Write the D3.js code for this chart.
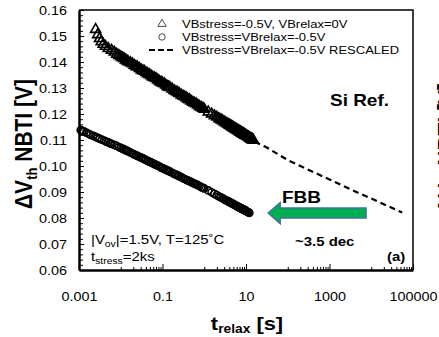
<!DOCTYPE html>
<html>
<head>
<meta charset="utf-8">
<script src="https://cdn.jsdelivr.net/npm/d3@7"></script>
<style>
  body { margin: 0; background: #fff; }
  svg { display: block; }
</style>
</head>
<body>
<div id="graph"></div>
<script>
const width = 439
const height = 337
const SX = 1.15   // text in the picture is a bit wider than tall
const FONT = "'Liberation Sans', Arial, sans-serif"

// VBstress=-0.5V, VBrelax=0V  (triangles)
const triT = [0.0025, 0.0028, 0.0031, 0.0034, 0.0038, 0.0043, 0.005, 0.006, 0.007, 0.008, 0.009,
  0.01, 0.011, 0.012, 0.013, 0.014, 0.015, 0.017, 0.019, 0.021, 0.023, 0.025, 0.028, 0.031, 0.034,
  0.037, 0.04, 0.044, 0.048, 0.053, 0.058, 0.064, 0.07, 0.077, 0.085, 0.093,
  0.1, 0.11, 0.12, 0.13, 0.14, 0.15, 0.17, 0.19, 0.21, 0.23, 0.25, 0.28, 0.31, 0.34,
  0.37, 0.4, 0.44, 0.48, 0.53, 0.58, 0.64, 0.7, 0.77, 0.85, 0.93,
  1.0, 1.25, 1.5, 1.75, 2.0, 2.25, 2.5, 2.75, 3.0, 3.25, 3.5, 3.75, 4.0, 4.25, 4.5, 4.75,
  5.0, 5.25, 5.5, 5.75, 6.0, 6.25, 6.5, 6.75, 7.0, 7.25, 7.5, 7.75, 8.0, 8.25, 8.5, 8.75,
  9.0, 9.25, 9.5, 9.75, 10, 10.5, 11, 11.5, 12, 12.5, 13, 13.5, 14, 14.5, 15]
const triV = [0.1525, 0.1505, 0.1490, 0.1478, 0.1468, 0.1460, 0.1452, 0.1445, 0.1438, 0.1430, 0.1425,
  0.1420, 0.1416, 0.1413, 0.1408, 0.1405, 0.1401, 0.1397, 0.1393, 0.1387, 0.1383, 0.1381, 0.1375, 0.1369, 0.1366,
  0.1364, 0.1359, 0.1355, 0.1352, 0.1347, 0.1342, 0.1339, 0.1336, 0.1331, 0.1325, 0.1322,
  0.1319, 0.1316, 0.1311, 0.1306, 0.1304, 0.1302, 0.1296, 0.1290, 0.1286, 0.1283, 0.1279, 0.1273, 0.1269, 0.1266,
  0.1262, 0.1258, 0.1255, 0.1250, 0.1245, 0.1242, 0.1239, 0.1234, 0.1229, 0.1225, 0.1222,
  0.1218, 0.1208, 0.1200, 0.1193, 0.1188, 0.1182, 0.1178, 0.1174, 0.1170, 0.1166, 0.1163, 0.1160,
  0.1157, 0.1155, 0.1152, 0.1150, 0.1147, 0.1145, 0.1143, 0.1141, 0.1139, 0.1138, 0.1136, 0.1134,
  0.1133, 0.1131, 0.1130, 0.1128, 0.1127, 0.1125, 0.1124, 0.1123, 0.1122, 0.1120, 0.1119, 0.1118,
  0.1117, 0.1115, 0.1113, 0.1111, 0.1109, 0.1107, 0.1105, 0.1104, 0.1102, 0.1101, 0.1099]

// VBstress=VBrelax=-0.5V  (circles)
const cirT = [0.0011, 0.0012, 0.0013, 0.0015, 0.0017, 0.0019, 0.0022, 0.0025, 0.0028, 0.0031, 0.0035,
  0.004, 0.0045, 0.005, 0.0055, 0.006, 0.007, 0.008, 0.009,
  0.01, 0.011, 0.012, 0.013, 0.014, 0.015, 0.017, 0.019, 0.021, 0.023, 0.025, 0.028, 0.031, 0.034,
  0.037, 0.04, 0.044, 0.048, 0.053, 0.058, 0.064, 0.07, 0.077, 0.085, 0.093,
  0.1, 0.11, 0.12, 0.13, 0.14, 0.15, 0.17, 0.19, 0.21, 0.23, 0.25, 0.28, 0.31, 0.34,
  0.37, 0.4, 0.44, 0.48, 0.53, 0.58, 0.64, 0.7, 0.77, 0.85, 0.93,
  1.0, 1.25, 1.5, 1.75, 2.0, 2.25, 2.5, 2.75, 3.0, 3.25, 3.5, 3.75, 4.0, 4.25, 4.5, 4.75,
  5.0, 5.25, 5.5, 5.75, 6.0, 6.25, 6.5, 6.75, 7.0, 7.25, 7.5, 7.75, 8.0, 8.25, 8.5, 8.75,
  9.0, 9.25, 9.5, 9.75, 10, 10.5, 11, 11.5, 12]
const cirV = [0.1138, 0.1135, 0.1133, 0.1128, 0.1124, 0.1120, 0.1116, 0.1112, 0.1108, 0.1105, 0.1101,
  0.1098, 0.1094, 0.1091, 0.1088, 0.1085, 0.1081, 0.1077, 0.1073,
  0.1070, 0.1067, 0.1064, 0.1061, 0.1059, 0.1056, 0.1052, 0.1048, 0.1045, 0.1042, 0.1039, 0.1035, 0.1032, 0.1029,
  0.1026, 0.1023, 0.1020, 0.1017, 0.1014, 0.1011, 0.1007, 0.1004, 0.1001, 0.0998, 0.0994,
  0.0992, 0.0989, 0.0986, 0.0983, 0.0981, 0.0978, 0.0974, 0.0970, 0.0967, 0.0964, 0.0961, 0.0957, 0.0953, 0.0950,
  0.0947, 0.0945, 0.0942, 0.0939, 0.0935, 0.0932, 0.0929, 0.0926, 0.0923, 0.0919, 0.0916,
  0.0914, 0.0906, 0.0899, 0.0893, 0.0888, 0.0883, 0.0879, 0.0876, 0.0872, 0.0869, 0.0867, 0.0864,
  0.0862, 0.0859, 0.0857, 0.0855, 0.0853, 0.0851, 0.0850, 0.0848, 0.0846, 0.0845, 0.0843, 0.0842,
  0.0840, 0.0839, 0.0838, 0.0837, 0.0835, 0.0834, 0.0833, 0.0832, 0.0831, 0.0830, 0.0829, 0.0828,
  0.0827, 0.0825, 0.0823, 0.0822, 0.0820]

// VBstress=VBrelax=-0.5V RESCALED  (dashed)
const dashT = [16, 30, 100, 300, 1000, 3000, 10000, 30000, 55000]
const dashV = [0.1093, 0.1073, 0.1023, 0.0987, 0.0948, 0.0912, 0.0875, 0.0840, 0.0821]

// FBB arrow: tip and tail along t, at this level
const arrowT = [34, 7500]
const arrowV = 0.0819

const xMajor = [0.001, 0.1, 10, 1000, 100000]
const xMinorDecades = [0.01, 1, 100, 10000]
const yTicks = [0.06, 0.07, 0.08, 0.09, 0.10, 0.11, 0.12, 0.13, 0.14, 0.15, 0.16]

const legendItems = ["VBstress=-0.5V, VBrelax=0V", "VBstress=VBrelax=-0.5V", "VBstress=VBrelax=-0.5V RESCALED"]

const svg = d3.select("#graph").append("svg")
    .attr("width", width)
    .attr("height", height)
    .style("font-family", FONT)

const x = d3.scaleLog()
    .domain([0.001, 100000])
    .range([79, 413])

const y = d3.scaleLinear()
    .domain([0.06, 0.16])
    .range([270, 10])

const [x0, x1] = x.range()
const [yb, yt] = y.range()

// helper for stretched text
function label(g, px, py, size, bold, rotate) {
    return g.append("text")
        .attr("transform", `translate(${px},${py}) scale(${SX},1)` + (rotate ? " rotate(-90)" : ""))
        .attr("font-size", size)
        .attr("font-weight", bold ? "bold" : "normal")
        .attr("fill", "#000")
}

// top / right frame
svg.append("path")
    .attr("d", `M${x0},${yt}H${x1}V${yb}`)
    .attr("fill", "none")
    .attr("stroke", "#000")
    .attr("stroke-width", 1.5)

// Y axis
const yMinor = d3.range(0.062, 0.16, 0.002)
svg.append("g")
    .attr("transform", `translate(${x0},0)`)
    .call(d3.axisLeft(y).tickValues(yMinor).tickSize(-4).tickSizeOuter(0).tickFormat(""))
    .call(g => g.select(".domain").remove())

const yAxis = svg.append("g")
    .attr("transform", `translate(${x0},0)`)
    .call(d3.axisLeft(y).tickValues(yTicks).tickSize(-5).tickSizeOuter(0)
        .tickPadding(10.5).tickFormat(d3.format(".2f")))
yAxis.select(".domain").attr("stroke-width", 2.5)
yAxis.selectAll(".tick text")
    .attr("font-size", 12.5)
    .attr("font-family", FONT)
    .attr("transform", `scale(${SX},1)`)

// X axis
const xMinor = []
xMinorDecades.forEach(d => { for (let m = 1; m <= 9; m++) xMinor.push(d * m) })
svg.append("g")
    .attr("transform", `translate(0,${yb})`)
    .call(d3.axisBottom(x).tickValues(xMinor).tickSize(-3).tickSizeOuter(0).tickFormat(""))
    .call(g => g.select(".domain").remove())

const xAxis = svg.append("g")
    .attr("transform", `translate(0,${yb})`)
    .call(d3.axisBottom(x).tickValues(xMajor).tickSize(-6).tickSizeOuter(0)
        .tickPadding(22).tickFormat(d => String(d)))
xAxis.select(".domain").attr("stroke-width", 2.5)
xAxis.selectAll(".tick text")
    .attr("font-size", 12.5)
    .attr("font-family", FONT)
    .attr("transform", `scale(${SX},1)`)

// Series
const tri = triT.map((t, i) => ({t, v: triV[i]}))
const cir = cirT.map((t, i) => ({t, v: cirV[i]}))
const dash = dashT.map((t, i) => ({t, v: dashV[i]}))

svg.append("g")
    .attr("fill", "none")
    .attr("stroke", "#000")
    .attr("stroke-width", 1.6)
    .selectAll()
    .data(tri)
    .join("path")
    .attr("transform", d => `translate(${x(d.t)},${y(d.v)})`)
    .attr("d", d3.symbol(d3.symbolTriangle, 44))

svg.append("g")
    .attr("fill", "none")
    .attr("stroke", "#000")
    .attr("stroke-width", 1.6)
    .selectAll()
    .data(cir)
    .join("path")
    .attr("transform", d => `translate(${x(d.t)},${y(d.v)})`)
    .attr("d", d3.symbol(d3.symbolCircle, 40))

svg.append("path")
    .datum(dash)
    .attr("fill", "none")
    .attr("stroke", "#000")
    .attr("stroke-width", 2.2)
    .attr("stroke-dasharray", "6,4")
    .attr("d", d3.line().x(d => x(d.t)).y(d => y(d.v)))

// Legend
const legend = svg.append("g")
legendItems.forEach((name, i) => {
    const ly = 24 + i * 13
    if (i === 0) legend.append("path").attr("transform", `translate(162,${ly})`)
        .attr("d", d3.symbol(d3.symbolTriangle, 30)).attr("fill", "none").attr("stroke", "#000").attr("stroke-width", 0.7)
    if (i === 1) legend.append("path").attr("transform", `translate(162,${ly})`)
        .attr("d", d3.symbol(d3.symbolCircle, 32)).attr("fill", "none").attr("stroke", "#000").attr("stroke-width", 0.7)
    if (i === 2) legend.append("line").attr("x1", 149).attr("x2", 176).attr("y1", ly).attr("y2", ly)
        .attr("stroke", "#000").attr("stroke-width", 2).attr("stroke-dasharray", "6,3")
    label(legend, 182, ly + 4, 11.3, false).text(name)
})

// Arrow (FBB)
const ax1 = x(arrowT[0]), ax2 = x(arrowT[1]), ay = y(arrowV)
const headL = 12, headH = 10.5, shaftH = 5
svg.append("path")
    .attr("d", `M${ax1},${ay}L${ax1 + headL},${ay - headH}V${ay - shaftH}H${ax2}V${ay + shaftH}H${ax1 + headL}V${ay + headH}Z`)
    .attr("fill", "#00b050")
    .attr("stroke", "#41719c")
    .attr("stroke-width", 1.5)

// Annotations
label(svg, 330, 106, 16.5, true).text("Si Ref.")
label(svg, 282, 203, 16.5, true).text("FBB")
label(svg, 295, 246, 13, true).text("~3.5 dec")
label(svg, 387, 261, 13, true).text("(a)")

const t1 = label(svg, 91, 244, 13, false)
t1.append("tspan").text("|V")
t1.append("tspan").attr("font-size", 9).attr("dy", 3).text("ov")
t1.append("tspan").attr("dy", -3).text("|=1.5V, T=125˚C")

const t2 = label(svg, 91, 261, 13, false)
t2.append("tspan").text("t")
t2.append("tspan").attr("font-size", 9).attr("dy", 3).text("stress")
t2.append("tspan").attr("dy", -3).text("=2ks")

// Axis titles
const xt = label(svg, 247, 330, 19, true).attr("text-anchor", "middle")
xt.append("tspan").text("t")
xt.append("tspan").attr("font-size", 12).attr("dy", 3).text("relax")
xt.append("tspan").attr("dy", -3).text(" [s]")

const yl = label(svg, 32, 144, 21, true, true).attr("text-anchor", "middle")
yl.append("tspan").text("ΔV")
yl.append("tspan").attr("font-size", 13).attr("dy", 4).text("th")
yl.append("tspan").attr("dy", -4).text(" NBTI [V]")

// edge of the neighbouring panel's title
const yr = label(svg, 455, 83, 21, true, true).attr("text-anchor", "end")
yr.append("tspan").text("ΔV")
yr.append("tspan").attr("font-size", 13).attr("dy", 4).text("th")
yr.append("tspan").attr("dy", -4).text(" NBTI [V]")
</script>
</body>
</html>
